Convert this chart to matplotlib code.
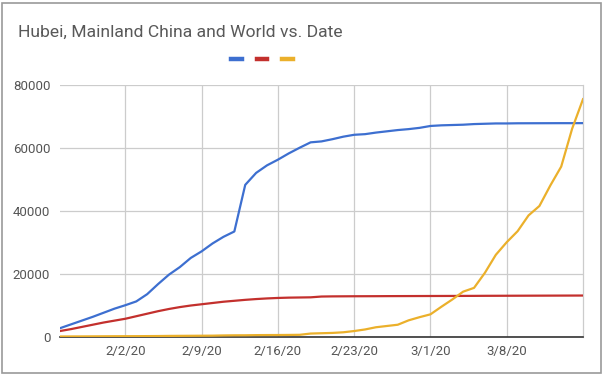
import numpy as np
import matplotlib
matplotlib.use("Agg")
from matplotlib import pyplot as plt
from matplotlib.lines import Line2D
from matplotlib.patches import Rectangle

plt.rcParams["font.family"] = ["Roboto", "DejaVu Sans"]

# daily values, 1/27/20 .. 3/15/20
dates = np.arange(np.datetime64("2020-01-27"), np.datetime64("2020-03-16"))

hubei = [2700, 3900, 5100, 6300, 7600, 8900, 10000, 11200, 13500, 16700,
         19700, 22100, 25000, 27100, 29600, 31700, 33400, 48200, 52000, 54400,
         56200, 58200, 60000, 61700, 62000, 62700, 63500, 64100, 64300, 64800,
         65200, 65600, 65900, 66300, 66900, 67100, 67200, 67300, 67500, 67600,
         67700, 67700, 67750, 67760, 67770, 67780, 67790, 67790, 67800]

mainland = [1800, 2400, 3100, 3800, 4500, 5100, 5700, 6500, 7300, 8100,
            8800, 9400, 9900, 10300, 10700, 11100, 11400, 11700, 11950, 12150,
            12300, 12400, 12450, 12500, 12750, 12800, 12820, 12840, 12850, 12860,
            12880, 12890, 12900, 12910, 12920, 12930, 12940, 12950, 12960, 12980,
            12990, 13000, 13010, 13020, 13030, 13040, 13050, 13060, 13070]

world = [60, 80, 90, 110, 130, 150, 160, 170, 190, 210,
         250, 270, 290, 310, 330, 400, 440, 450, 500, 520,
         530, 560, 600, 1000, 1100, 1200, 1400, 1800, 2300, 3000,
         3400, 3800, 5200, 6200, 7100, 9500, 11800, 14300, 15500, 20300,
         26000, 30000, 33500, 38500, 41500, 48000, 54000, 66000, 75400]

x_ticks = ["2020-02-02", "2020-02-09", "2020-02-16", "2020-02-23", "2020-03-01", "2020-03-08"]
x_tick_labels = ["2/2/20", "2/9/20", "2/16/20", "2/23/20", "3/1/20", "3/8/20"]
y_ticks = [0, 20000, 40000, 60000, 80000]

colors = ["#3d6fd0", "#c3302d", "#ebb02b"]

fig = plt.figure(figsize=(6.03, 3.78), dpi=100)
fig.patch.set_facecolor("white")

# chart card border
fig.add_artist(Rectangle((2 / 603, 5 / 378), 599 / 603, 370 / 378, transform=fig.transFigure,
                         fill=False, edgecolor="#9a9a9a", linewidth=1.2))

ax = fig.add_axes([60 / 603, 41.3 / 378, 523 / 603, 252 / 378])

ax.plot(dates, hubei, color=colors[0], lw=1.6, zorder=3)
ax.plot(dates, mainland, color=colors[1], lw=1.6, zorder=3)
ax.plot(dates, world, color=colors[2], lw=1.6, zorder=3)

ax.set_xlim(dates[0], dates[-1])
ax.set_ylim(0, 80000)
ax.set_yticks(y_ticks)
ax.set_yticklabels([str(v) for v in y_ticks])
ax.set_xticks([np.datetime64(d) for d in x_ticks])
ax.set_xticklabels(x_tick_labels)

ax.grid(True, color="#cccccc", lw=0.9)
ax.set_axisbelow(True)
for s in ["top", "left"]:
    ax.spines[s].set_visible(False)
ax.spines["right"].set_color("#cccccc")
ax.spines["right"].set_linewidth(0.9)
ax.spines["bottom"].set_color("#333333")
ax.spines["bottom"].set_linewidth(1.2)
ax.tick_params(length=0, labelsize=9.5, labelcolor="#555555")
ax.tick_params(axis="y", pad=7)
ax.tick_params(axis="x", pad=6)

fig.text(18 / 603, 1 - 32 / 378, "Hubei, Mainland China and World vs. Date",
         fontsize=12.6, color="#595959", va="center", ha="left")

handles = [Line2D([], [], color=c, lw=3.2) for c in colors]
fig.legend(handles, ["", "", ""], ncol=3, loc="center", bbox_to_anchor=(262 / 603, 1 - 60 / 378),
           frameon=False, handlelength=0.75, columnspacing=1.1, handletextpad=0.0)

fig.savefig("out.png", dpi=100)
